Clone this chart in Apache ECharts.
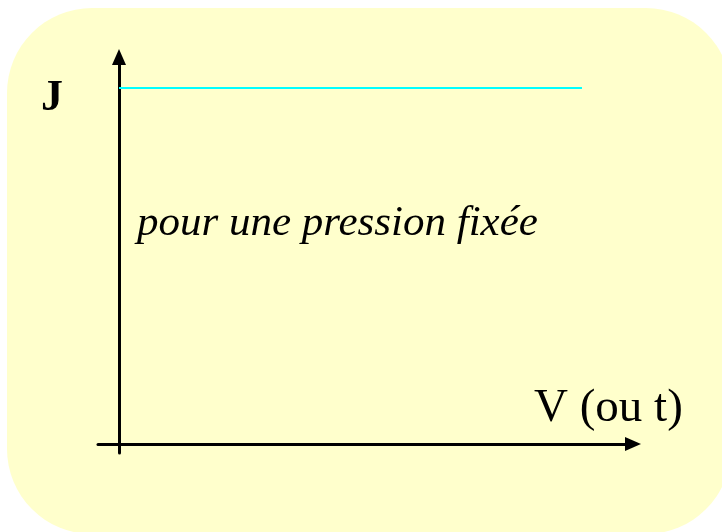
<!DOCTYPE html>
<html>
<head>
<meta charset="utf-8">
<script src="https://cdn.jsdelivr.net/npm/echarts@6/dist/echarts.min.js"></script>
<style>
  html, body { margin: 0; padding: 0; background: #ffffff; }
  #chart { width: 722px; height: 532px; }
</style>
</head>
<body>
<div id="chart"></div>
<script>
// J stays constant over V (or t) at a fixed pressure
const vValues = [0, 1];
const jValues = [1, 1];

const yLabel = 'J';
const xLabel = 'V (ou t)';
const note = 'pour une pression fixée';

const seriesData = vValues.map((v, i) => [v, jValues[i]]);

const chart = echarts.init(document.getElementById('chart'), null, { renderer: 'canvas' });

const serif = '"Liberation Serif", "Times New Roman", serif';

chart.setOption({
  animation: false,
  backgroundColor: '#ffffff',
  grid: { left: 98, right: 89, top: 57, bottom: 79, containLabel: false },
  xAxis: {
    type: 'value',
    min: -0.04536,
    max: 1.1102,
    axisLine: {
      show: true,
      onZero: true,
      symbol: ['none', 'triangle'],
      symbolSize: [14, 16],
      lineStyle: { color: '#000000', width: 3 }
    },
    axisTick: { show: false },
    axisLabel: { show: false },
    splitLine: { show: false }
  },
  yAxis: {
    type: 'value',
    min: -0.02528,
    max: 1.0871,
    axisLine: {
      show: true,
      onZero: true,
      symbol: ['none', 'triangle'],
      symbolSize: [14, 16],
      lineStyle: { color: '#000000', width: 3 }
    },
    axisTick: { show: false },
    axisLabel: { show: false },
    splitLine: { show: false }
  },
  series: [{
    type: 'line',
    data: seriesData,
    symbol: 'none',
    lineStyle: { color: '#00ffff', width: 2 }
  }],
  graphic: [
    {
      type: 'rect',
      z: -100,
      silent: true,
      shape: { x: 7, y: 8, width: 724, height: 526, r: 85 },
      style: { fill: '#ffffcc' }
    },
    {
      type: 'text',
      z: 10,
      style: {
        x: 41, y: 99,
        text: yLabel,
        font: 'bold 44px ' + serif,
        fill: '#000000',
        textVerticalAlign: 'middle'
      }
    },
    {
      type: 'text',
      z: 10,
      style: {
        x: 534, y: 409,
        text: xLabel,
        font: '47px ' + serif,
        fill: '#000000',
        textVerticalAlign: 'middle'
      }
    },
    {
      type: 'text',
      z: 10,
      style: {
        x: 137, y: 224,
        text: note,
        font: 'italic 43px ' + serif,
        fill: '#000000',
        textVerticalAlign: 'middle'
      }
    }
  ]
});
</script>
</body>
</html>
